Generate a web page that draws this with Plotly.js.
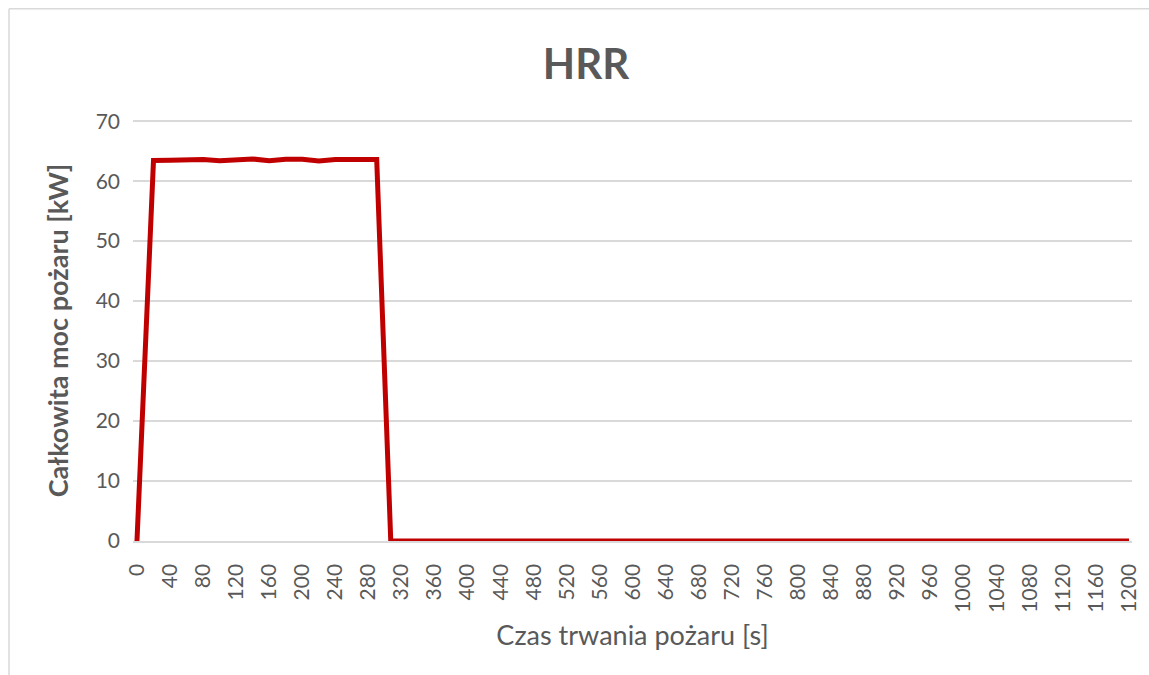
<!DOCTYPE html>
<html>
<head>
<meta charset="utf-8">
<script src="https://cdn.plot.ly/plotly-3.0.1.min.js"></script>
<style>
html,body{margin:0;padding:0;background:#fff;}
#chart{width:1149px;height:675px;}
</style>
</head>
<body>
<div id="chart"></div>
<script>
// Time [s]
const czas = [0, 20, 40, 60, 80, 100, 120, 140, 160, 180, 200, 220, 240, 260, 280, 290, 307,
  320, 340, 360, 380, 400, 420, 440, 460, 480, 500, 520, 540, 560, 580, 600, 620, 640, 660, 680,
  700, 720, 740, 760, 780, 800, 820, 840, 860, 880, 900, 920, 940, 960, 980, 1000, 1020, 1040,
  1060, 1080, 1100, 1120, 1140, 1160, 1180, 1200];
// HRR [kW]
const hrr = [0, 63.45, 63.5, 63.65, 63.6, 63.4, 63.65, 63.7, 63.4, 63.65, 63.65, 63.35, 63.6, 63.65, 63.6, 63.6, 0,
  0, 0, 0, 0, 0, 0, 0, 0, 0, 0, 0, 0, 0, 0, 0, 0, 0, 0, 0,
  0, 0, 0, 0, 0, 0, 0, 0, 0, 0, 0, 0, 0, 0, 0, 0, 0, 0,
  0, 0, 0, 0, 0, 0, 0, 0];
const xTicks = [0,40,80,120,160,200,240,280,320,360,400,440,480,520,560,600,640,680,720,760,800,840,880,920,960,1000,1040,1080,1120,1160,1200];
const yTicks = [0,10,20,30,40,50,60,70];

const L = 133, R = 1132, T = 121, B = 541;
const px = v => (v - L) / (R - L);
const py = v => (B - v) / (B - T);

const trace = {
  x: czas, y: hrr, type: 'scatter', mode: 'lines',
  line: {color: '#c00000', width: 5, shape: 'linear'},
  hoverinfo: 'skip'
};

const layout = {
  width: 1149, height: 675,
  margin: {l: L, r: 1149 - R, t: T - 1, b: 675 - B},
  paper_bgcolor: '#ffffff', plot_bgcolor: '#ffffff',
  font: {family: 'Lato, "Liberation Sans", sans-serif', color: '#595959'},
  showlegend: false,
  title: {
    text: '<b>HRR</b>',
    font: {size: 42, color: '#595959', family: 'Lato, "Liberation Sans", sans-serif'},
    xref: 'paper', x: px(586), xanchor: 'center',
    yref: 'container', y: 1 - 64/675, yanchor: 'middle'
  },
  xaxis: {
    range: [-4.8, 1203.6],
    tickvals: xTicks, ticktext: xTicks.map(String),
    tickangle: -90, tickfont: {size: 21, color: '#595959'},
    ticklabelstandoff: 13,
    showgrid: false, zeroline: false,
    showline: true, linecolor: '#d9d9d9', linewidth: 1.5,
    ticks: '', ticklen: 0,
    title: {text: 'Czas trwania pożaru [s]', font: {size: 27, color: '#595959'}, standoff: 14}
  },
  yaxis: {
    range: [0, 70.2],
    tickvals: yTicks, ticktext: yTicks.map(String),
    tickfont: {size: 21, color: '#595959'},
    ticklabelstandoff: 12,
    showgrid: true, gridcolor: '#d9d9d9', gridwidth: 1.5,
    zeroline: false, showline: false, ticks: '',
    title: {text: '<b>Całkowita moc pożaru [kW]</b>', font: {size: 27, color: '#595959'}, standoff: 19}
  },
  shapes: [
    {type: 'line', xref: 'paper', yref: 'paper', x0: px(9), x1: px(1160), y0: py(10), y1: py(10),
     line: {color: '#d9d9d9', width: 1.5}},
    {type: 'line', xref: 'paper', yref: 'paper', x0: px(9), x1: px(9), y0: py(10), y1: py(690),
     line: {color: '#d9d9d9', width: 1.5}}
  ]
};

Plotly.newPlot('chart', [trace], layout, {displayModeBar: false, staticPlot: true});
</script>
</body>
</html>
